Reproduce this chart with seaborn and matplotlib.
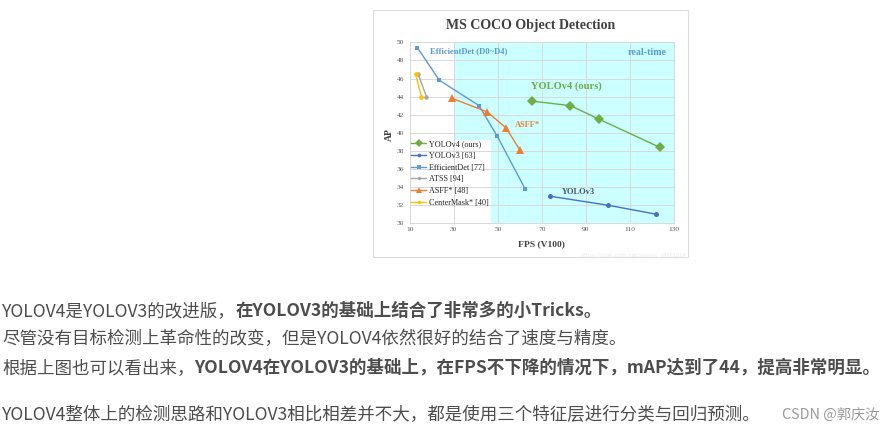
import matplotlib
matplotlib.use("Agg")
import matplotlib.pyplot as plt
import seaborn as sns
import pandas as pd
from matplotlib.patches import Rectangle

# ---------------- data ----------------
SERIES = ["YOLOv4 (ours)", "YOLOv3 [63]", "EfficientDet [77]",
          "ATSS [94]", "ASFF* [48]", "CenterMask* [40]"]

yolov4_fps = [65.5, 83.0, 96.0, 123.5]
yolov4_ap = [43.5, 43.0, 41.5, 38.4]
yolov3_fps = [73.5, 100.0, 122.0]
yolov3_ap = [33.0, 32.0, 31.0]
effdet_fps = [13.5, 23.5, 41.5, 49.8, 62.4]
effdet_ap = [49.4, 45.8, 43.0, 39.6, 33.8]
atss_fps = [13.8, 17.6]
atss_ap = [46.5, 44.0]
asff_fps = [29.3, 45.3, 53.9, 60.0]
asff_ap = [43.8, 42.3, 40.5, 38.1]
centermask_fps = [12.7, 15.3]
centermask_ap = [46.5, 44.0]

REALTIME_FPS = 30
X_TICKS = [10, 30, 50, 70, 90, 110, 130]
Y_TICKS = [30, 32, 34, 36, 38, 40, 42, 44, 46, 48, 50]

TITLE = "MS COCO Object Detection"
ANNOT_TEXTS = ["EfficientDet (D0~D4)", "real-time", "YOLOv4 (ours)", "ASFF*", "YOLOv3"]

BODY_LINES = [
    [("YOLOV4是YOLOV3的改进版，", False), ("在YOLOV3的基础上结合了非常多的小Tricks。", True)],
    [("尽管没有目标检测上革命性的改变，但是YOLOV4依然很好的结合了速度与精度。", False)],
    [("根据上图也可以看出来，", False),
     ("YOLOV4在YOLOV3的基础上，在FPS不下降的情况下，mAP达到了44，提高非常明显。", True)],
    [("YOLOV4整体上的检测思路和YOLOV3相比相差并不大，都是使用三个特征层进行分类与回归预测。", False)],
]
WATERMARK = "CSDN @郭庆汝"
IMG_WATERMARK = "https://blog.csdn.net/weixin_44791964"

# ---------------- styles / layout ----------------
fps_lists = [yolov4_fps, yolov3_fps, effdet_fps, atss_fps, asff_fps, centermask_fps]
ap_lists = [yolov4_ap, yolov3_ap, effdet_ap, atss_ap, asff_ap, centermask_ap]
COLORS = ["#70AD47", "#4472C4", "#5B9BD5", "#A5A5A5", "#ED7D31", "#FFC000"]
MARKERS = ["D", "o", "s", "o", "^", "o"]
MSIZES = [5.2, 3.6, 3.2, 3.2, 5.2, 3.4]

ANNOT_STYLE = [  # x, y (data), ha, color, size
    (19.2, 49.0, "left", "#5B9BD5", 6.2),
    (126.5, 48.9, "right", "#5B9BD5", 7.2),
    (65.2, 45.1, "left", "#70AD47", 7.6),
    (57.8, 40.85, "left", "#ED7D31", 6.0),
    (79.3, 33.5, "left", "#44546A", 6.0),
]

W, H = 896, 429
SERIF = "Liberation Serif"
CJK = ["Noto Sans CJK SC", "DejaVu Sans"]
plt.rcParams["font.family"] = SERIF

fig = plt.figure(figsize=(W / 100, H / 100), dpi=100)
fig.patch.set_facecolor("white")


def fx(px):
    return px / W


def fy(py):
    return 1 - py / H


# outer image frame
fig.add_artist(Rectangle((fx(373), fy(257)), (688 - 373) / W, (257 - 10) / H,
                         transform=fig.transFigure, fill=False,
                         ec="#dcdcdc", lw=0.8))

ax = fig.add_axes([fx(409.7), fy(223.3), (674 - 409.7) / W, (223.3 - 42.3) / H])
ax.set_facecolor("white")

frames = []
for name, xs, ys in zip(SERIES, fps_lists, ap_lists):
    frames.append(pd.DataFrame({"model": name, "fps": xs, "ap": ys}))
df = pd.concat(frames, ignore_index=True)

for name, col, mk, ms in zip(SERIES, COLORS, MARKERS, MSIZES):
    sub = df[df["model"] == name]
    sns.lineplot(data=sub, x="fps", y="ap", sort=False, estimator=None,
                 color=col, marker=mk, markersize=ms, markeredgewidth=0,
                 lw=1.0, label=name, ax=ax, zorder=3)

ax.set_xlim(X_TICKS[0], X_TICKS[-1])
ax.set_ylim(Y_TICKS[0], Y_TICKS[-1])
ax.axvspan(REALTIME_FPS, X_TICKS[-1], color="#CCFFFF", lw=0, zorder=0.1)
ax.add_patch(Rectangle((0, 0), 0.309, 0.46, transform=ax.transAxes,
                       fc="white", ec="none", zorder=0.2))
ax.set_axisbelow(True)
ax.grid(True, color="#d9d9d9", lw=0.7)
for s in ax.spines.values():
    s.set_color("#d9d9d9")
    s.set_linewidth(0.7)

ax.set_xticks(X_TICKS)
ax.set_yticks(Y_TICKS)
ax.tick_params(axis="both", length=0, labelsize=5.3, labelcolor="#595959")
ax.tick_params(axis="y", pad=4.0)
ax.tick_params(axis="x", pad=2.8)

ax.set_xlabel("FPS (V100)", fontsize=6.8, fontweight="bold", color="#404040")
ax.xaxis.set_label_coords(0.5, -0.114)
ax.xaxis.label.set_va("center")
ax.set_ylabel("AP", fontsize=7.0, fontweight="bold", color="#404040")
ax.yaxis.set_label_coords(-0.078, 0.49)
ax.yaxis.label.set_va("center")

handles, labels = ax.get_legend_handles_labels()
ax.legend(handles, labels, loc="upper left", bbox_to_anchor=(0.005, 0.459),
          borderaxespad=0, borderpad=0, frameon=False,
          prop={"family": SERIF, "size": 5.9}, handlelength=1.85,
          handletextpad=0.37, labelspacing=0.45, markerscale=0.75,
          labelcolor="#262626")

for txt, (x, y, ha, col, size) in zip(ANNOT_TEXTS, ANNOT_STYLE):
    ax.text(x, y, txt, ha=ha, va="center", color=col, fontsize=size,
            fontweight="bold", zorder=4)

fig.text(fx(531), fy(25), TITLE, ha="center", va="center", fontsize=10,
         fontweight="bold", color="#404040")
fig.text(fx(580), fy(256), IMG_WATERMARK, ha="left", va="center",
         fontsize=4.2, color="#ececec", family=CJK)

# ---------------- body text ----------------
renderer = fig.canvas.get_renderer()
BASELINES = [316, 344, 373, 420]
for parts, base in zip(BODY_LINES, BASELINES):
    x = 2
    for txt, bold in parts:
        t = fig.text(fx(x), fy(base), txt, ha="left", va="baseline",
                     fontsize=12.6, fontweight="bold" if bold else "normal",
                     family=CJK, color="#4d4d4d")
        x = t.get_window_extent(renderer=renderer).x1

fig.text(fx(782), fy(419), WATERMARK, ha="left", va="baseline",
         fontsize=10.3, family=CJK, color="#999999")

fig.savefig("out.png", dpi=100, facecolor="white")
